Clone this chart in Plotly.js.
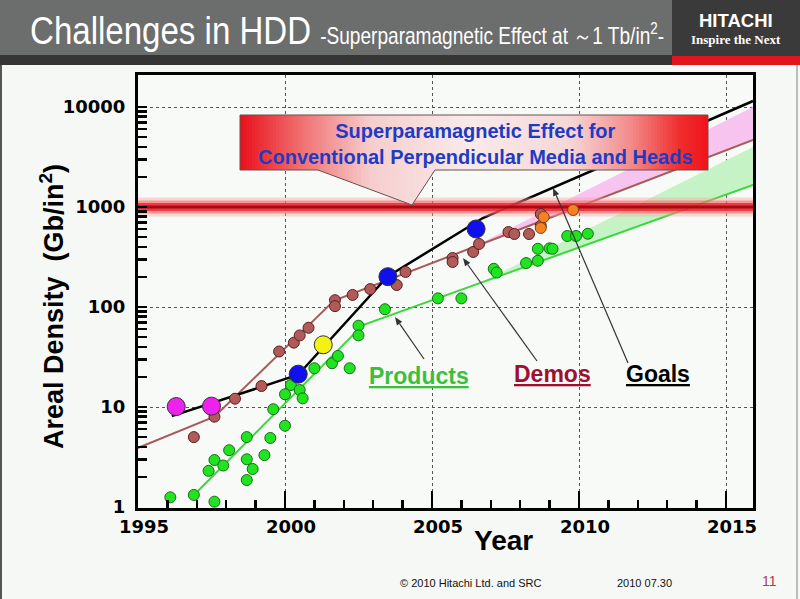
<!DOCTYPE html>
<html>
<head>
<meta charset="utf-8">
<script src="https://cdn.plot.ly/plotly-3.0.1.min.js"></script>
<style>
  html, body { margin: 0; padding: 0; background: #f5f8f5; }
  #chart { width: 800px; height: 599px; }
</style>
</head>
<body>
<div id="chart"></div>
<script>
// ---------------- DATA ----------------
const productYears  = [1996.1, 1996.9, 1997.6, 1997.4, 1997.6, 1997.9, 1998.1, 1998.7, 1998.7, 1998.9, 1998.7, 1999.3, 1999.5, 1999.6, 2000.0, 2000.0, 2000.2, 2000.5, 2000.6, 2001.0, 2001.6, 2001.8, 2002.2, 2002.5, 2002.5, 2003.4, 2005.2, 2006.0, 2007.1, 2007.2, 2008.2, 2008.6, 2008.6, 2009.0, 2009.1, 2009.6, 2009.9, 2010.3];
const productValues = [1.25, 1.32, 1.13, 2.3, 2.95, 2.6, 3.7, 1.86, 3.0, 2.4, 5.0, 3.3, 4.9, 9.5, 6.5, 13.4, 16.6, 14.8, 12.2, 24.4, 27.4, 32.4, 24.4, 65, 52, 95, 122, 122, 241, 221, 275, 290, 382, 386, 382, 513, 513, 540];

const demoYears  = [1996.9, 1997.6, 1998.3, 1999.2, 1999.8, 2000.3, 2000.5, 2000.8, 2001.7, 2001.7, 2002.3, 2002.9, 2003.8, 2004.1, 2005.7, 2005.7, 2006.4, 2006.6, 2007.6, 2007.8, 2008.3, 2008.7, 2008.7];
const demoValues = [5.0, 8.0, 12.1, 16.2, 35.9, 44, 52, 62, 117, 102, 132, 151, 166, 224, 309, 282, 355, 427, 562, 537, 537, 851, 650];

const demoLateYears  = [2008.8, 2008.7, 2009.8];
const demoLateValues = [794, 617, 933];

const goalYears  = [1996.3, 1997.5, 2000.45, 2001.3, 2003.5, 2006.5];
const goalValues = [10.1, 10.2, 21.3, 41.9, 201, 603];

const productTrendYears  = [1996.97, 2002.65, 2015.92];
const productTrendValues = [1.38, 66, 1660];
const demoTrendYears  = [1994.4, 1997.6, 2001.67, 2015.92];
const demoTrendValues = [3.3, 8.0, 116, 4677];
const goalTrendYears  = [1996.15, 2000.45, 2003.48, 2006.73, 2015.92];
const goalTrendValues = [8.1, 21, 201, 776, 11482];

const demoForecastYears  = [2006.29, 2015.92, 2015.92];
const demoForecastValues = [385, 10000, 4677];
const productForecastYears  = [2006.63, 2015.92, 2015.92];
const productForecastValues = [174, 3981, 1660];

const superparamagneticLimit = 1000;   // Gb/in^2 (~1 Tb/in^2)

const xTickVals = [1995, 2000, 2005, 2010, 2015];
const xTickText = ['1995', '2000', '2005', '2010', '2015'];
const yTickVals = [1, 10, 100, 1000, 10000];
const yTickText = ['1', '10', '100', '1000', '10000'];

const seriesLabels = ['Products', 'Demos', 'Goals'];

// ---------------- LAYOUT HELPERS ----------------
const L = 138, T = 75, W = 615, H = 433;
const xRange = [1995, 1995 + W / 29.4];
const PX = x => (x - L) / W;
const PY = y => (T + H - y) / H;

const yMinor = [];
for (let d = 1; d <= 10000; d *= 10) {
  for (let k = 2; k <= 9; k++) { if (d * k < 20000) yMinor.push(d * k); }
}

// ---------------- TRACES ----------------
const traces = [];
traces.push({x: demoForecastYears, y: demoForecastValues, mode: 'lines', fill: 'toself',
  fillcolor: '#f6c4ef', line: {width: 0}, hoverinfo: 'skip'});
traces.push({x: productForecastYears, y: productForecastValues, mode: 'lines', fill: 'toself',
  fillcolor: '#c6f3c6', line: {width: 0}, hoverinfo: 'skip'});

traces.push({x: demoTrendYears, y: demoTrendValues, mode: 'lines', line: {color: '#a85a5a', width: 2}, cliponaxis: false});
traces.push({x: productTrendYears, y: productTrendValues, mode: 'lines', line: {color: '#3ad83a', width: 2}});
traces.push({x: goalTrendYears, y: goalTrendValues, mode: 'lines', line: {color: '#000000', width: 2.5}});

// superparamagnetic limit band (glow layers)
const bandW = [0.095, 0.065, 0.04, 0.014];
const bandC = ['rgba(250,160,160,0.40)', 'rgba(245,90,90,0.50)', 'rgba(232,30,40,0.75)', 'rgba(160,0,10,0.85)'];
bandW.forEach((w, i) => {
  const lo = superparamagneticLimit * Math.pow(10, -w), hi = superparamagneticLimit * Math.pow(10, w);
  traces.push({x: [xRange[0], xRange[1], xRange[1], xRange[0]], y: [lo, lo, hi, hi],
    mode: 'lines', fill: 'toself', fillcolor: bandC[i], line: {width: 0}, hoverinfo: 'skip'});
});

traces.push({x: productYears, y: productValues, mode: 'markers',
  marker: {size: 11, color: '#1fe41f', line: {color: '#1b6b1b', width: 1}}});
traces.push({x: demoYears, y: demoValues, mode: 'markers',
  marker: {size: 11, color: '#b05a5a', line: {color: '#5a2020', width: 1}}});
traces.push({x: demoLateYears, y: demoLateValues, mode: 'markers',
  marker: {size: 11, color: '#f58220', line: {color: '#8a4010', width: 1}}});
traces.push({x: goalYears, y: goalValues, mode: 'markers',
  marker: {size: 18, color: ['#ee22ee', '#ee22ee', '#1010ee', '#f2f214', '#1010ee', '#1010ee'],
           line: {color: '#333333', width: 1}}});

// ---------------- SHAPES ----------------
const shapes = [];
function rectPx(x0, y0, x1, y1, fill, layer) {
  shapes.push({type: 'rect', xref: 'paper', yref: 'paper', x0: PX(x0), x1: PX(x1), y0: PY(y1), y1: PY(y0),
    fillcolor: fill, line: {width: 0}, layer: layer || 'above'});
}
function pathPx(pts, close) {
  return 'M' + pts.map(q => PX(q[0]) + ',' + PY(q[1])).join(' L') + (close ? ' Z' : '');
}
// header
rectPx(0, 0, 672, 55, '#6c6d6d');
rectPx(0, 55, 672, 65, '#353535');
rectPx(672, 0, 800, 56, '#3a3a3a');
rectPx(672, 56, 800, 65, '#e0161e');
rectPx(0, 65, 2, 599, '#555555');
rectPx(796, 65, 798, 599, '#bbbbbb');

// callout gradient
const stops = [[240, [232, 16, 26]], [300, [240, 110, 110]], [370, [246, 205, 205]], [470, [249, 234, 234]],
               [570, [246, 215, 215]], [630, [243, 140, 140]], [680, [240, 45, 45]], [708, [238, 20, 25]]];
function gradColor(x) {
  for (let i = 0; i < stops.length - 1; i++) {
    const [xa, ca] = stops[i], [xb, cb] = stops[i + 1];
    if (x <= xb) {
      const t = Math.max(0, (x - xa) / (xb - xa));
      const c = ca.map((v, k) => Math.round(v + (cb[k] - v) * t));
      return 'rgb(' + c.join(',') + ')';
    }
  }
  return 'rgb(238,20,25)';
}
const BX0 = 240, BX1 = 708, BY0 = 115, BY1 = 170;
for (let x = BX0; x < BX1; x += 3) {
  const xe = Math.min(x + 3.6, BX1);
  rectPx(x, BY0, xe, BY1, gradColor(x + 1.5));
}
// pointer strips
const PA = 318, PT = 412, PB = 435, TIPY = 205;
function ybot(x) { return x <= PT ? BY1 + (x - PA) * (TIPY - BY1) / (PT - PA) : TIPY - (x - PT) * (TIPY - BY1) / (PB - PT); }
function stripPath(xa, xb) {
  return pathPx([[xa, BY1 - 1], [xb, BY1 - 1], [xb, ybot(xb)], [xa, ybot(xa)]], true);
}
const nL = 24;
for (let i = 0; i < nL; i++) {
  const xa = PA + (PT - PA) * i / nL, xb = PA + (PT - PA) * (i + 1) / nL;
  shapes.push({type: 'path', xref: 'paper', yref: 'paper', path: stripPath(xa, Math.min(xb + 0.6, PT)),
    fillcolor: gradColor((xa + xb) / 2), line: {width: 0}, layer: 'above'});
}
const nR = 6;
for (let i = 0; i < nR; i++) {
  const xa = PT + (PB - PT) * i / nR, xb = PT + (PB - PT) * (i + 1) / nR;
  shapes.push({type: 'path', xref: 'paper', yref: 'paper', path: stripPath(Math.max(xa - 0.6, PT), xb),
    fillcolor: gradColor((xa + xb) / 2), line: {width: 0}, layer: 'above'});
}
const border = [[BX0, BY0], [BX1, BY0], [BX1, BY1], [PB, BY1], [PT, TIPY], [PA, BY1], [BX0, BY1]];
shapes.push({type: 'path', xref: 'paper', yref: 'paper', path: pathPx(border, true),
  line: {color: '#6a5050', width: 1}, layer: 'above'});

// pointer arrows from the series labels
function arrowShape(tx, ty, sx, sy) {
  const dx = tx - sx, dy = ty - sy, len = Math.hypot(dx, dy), ux = dx / len, uy = dy / len;
  const hl = 8, hw = 3.2;
  const bx = tx - ux * hl, by = ty - uy * hl;
  shapes.push({type: 'path', xref: 'paper', yref: 'paper', path: pathPx([[sx, sy], [bx, by]], false),
    line: {color: '#333333', width: 1.2}, layer: 'above'});
  shapes.push({type: 'path', xref: 'paper', yref: 'paper',
    path: pathPx([[tx, ty], [bx - uy * hw, by + ux * hw], [bx + uy * hw, by - ux * hw]], true),
    fillcolor: '#333333', line: {width: 0}, layer: 'above'});
}
arrowShape(395, 317, 424, 359);
arrowShape(463, 258, 537, 361);
arrowShape(553, 188, 628, 363);

// ---------------- ANNOTATIONS ----------------
const SANS = 'Liberation Sans, Arial, sans-serif';
const TICKF = 'DejaVu Sans, Verdana, sans-serif';
const ann = [];
function txt(x, y, text, font, extra) {
  ann.push(Object.assign({xref: 'paper', yref: 'paper', x: PX(x), y: PY(y), text: text, showarrow: false,
    xanchor: 'center', yanchor: 'middle', font: font}, extra || {}));
}
txt(28, 31, 'Challenges in HDD', {family: SANS, size: 38, color: '#ffffff'}, {xanchor: 'left'});
txt(318, 34, '-Superparamagnetic Effect at ～1 Tb/in<sup>2</sup>-', {family: SANS, size: 23, color: '#ffffff'}, {xanchor: 'left'});
txt(736, 21, 'HITACHI', {family: SANS, size: 18.5, color: '#ffffff', weight: 'bold'});
txt(736, 39, 'Inspire the Next', {family: 'Liberation Serif, serif', size: 13, color: '#ffffff', weight: 'bold'});

txt(475, 143.5, 'Superparamagnetic Effect for<br>Conventional Perpendicular Media and Heads',
  {family: SANS, size: 20, color: '#1f3bc4', weight: 'bold'});

txt(419, 376, seriesLabels[0], {family: SANS, size: 23, color: '#3cbf3c', weight: 'bold', lineposition: 'under'});
txt(552, 374, seriesLabels[1], {family: SANS, size: 23, color: '#a0102c', weight: 'bold', lineposition: 'under'});
txt(658, 374, seriesLabels[2], {family: SANS, size: 23, color: '#000000', weight: 'bold', lineposition: 'under'});

// x tick labels (slightly right of their ticks, as in the slide)
xTickVals.forEach((v, i) => {
  ann.push({xref: 'x', yref: 'paper', x: v, y: PY(526), xshift: 6, text: xTickText[i], showarrow: false,
    xanchor: 'center', yanchor: 'middle', font: {family: TICKF, size: 18, color: '#000000', weight: 'bold'}});
});

txt(52, 307, 'Areal Density\u00A0\u00A0(Gb/in<sup>2</sup>)', {family: SANS, size: 27, color: '#000000', weight: 'bold'}, {textangle: -90});
txt(503, 540, 'Year', {family: SANS, size: 28, color: '#000000', weight: 'bold'});

txt(470, 583, '© 2010 Hitachi Ltd. and SRC', {family: SANS, size: 11, color: '#111111'});
txt(644, 583, '2010 07.30', {family: SANS, size: 11, color: '#111111'});
txt(769, 581, '11', {family: SANS, size: 14, color: '#a84050'});

// ---------------- LAYOUT ----------------
const layout = {
  width: 800, height: 599,
  margin: {l: L, r: 800 - L - W, t: T, b: 599 - T - H, pad: 0},
  paper_bgcolor: '#f5f8f5', plot_bgcolor: '#f7faf7',
  showlegend: false, hovermode: false,
  xaxis: {
    range: xRange, showline: true, linewidth: 3, linecolor: '#000000', mirror: true, zeroline: false,
    tickmode: 'array', tickvals: xTickVals, showticklabels: false,
    ticks: 'inside', ticklen: 17, tickwidth: 2.5, tickcolor: '#000000',
    showgrid: true, gridcolor: '#555555', gridwidth: 1, griddash: 'dot',
    minor: {dtick: 1, tick0: 1995, ticks: 'inside', ticklen: 8, tickwidth: 2.5, tickcolor: '#000000', showgrid: false}
  },
  yaxis: {
    type: 'log', range: [-0.01, 4.32], showline: true, linewidth: 3, linecolor: '#000000', mirror: true, zeroline: false,
    tickmode: 'array', tickvals: yTickVals, ticktext: yTickText,
    ticks: 'inside', ticklen: 9, tickwidth: 2.5, tickcolor: '#000000', ticklabelstandoff: 6,
    tickfont: {family: TICKF, size: 18, color: '#000000', weight: 'bold'},
    showgrid: true, gridcolor: '#555555', gridwidth: 1, griddash: 'dot',
    minor: {tickmode: 'array', tickvals: yMinor, ticks: 'inside', ticklen: 9, tickwidth: 2.5, tickcolor: '#000000', showgrid: false}
  },
  shapes: shapes,
  annotations: ann
};

Plotly.newPlot('chart', traces, layout, {staticPlot: true, displayModeBar: false}).then(gd => {
  // condense the header lettering like the slide's narrow typeface
  const squeeze = {'Challenges in HDD': 0.87, '-Superparamagnetic': 0.83};
  gd.querySelectorAll('text.annotation-text').forEach(el => {
    const s = el.textContent || '';
    Object.keys(squeeze).forEach(k => {
      if (s.indexOf(k) === 0) {
        el.style.transformBox = 'fill-box';
        el.style.transformOrigin = 'left center';
        el.style.transform = 'scaleX(' + squeeze[k] + ')';
      }
    });
  });
  // drop empty placeholder text nodes (unused titles)
  gd.querySelectorAll('text').forEach(el => {
    if (!(el.textContent || '').trim()) el.parentNode.removeChild(el);
  });
});
</script>
</body>
</html>
